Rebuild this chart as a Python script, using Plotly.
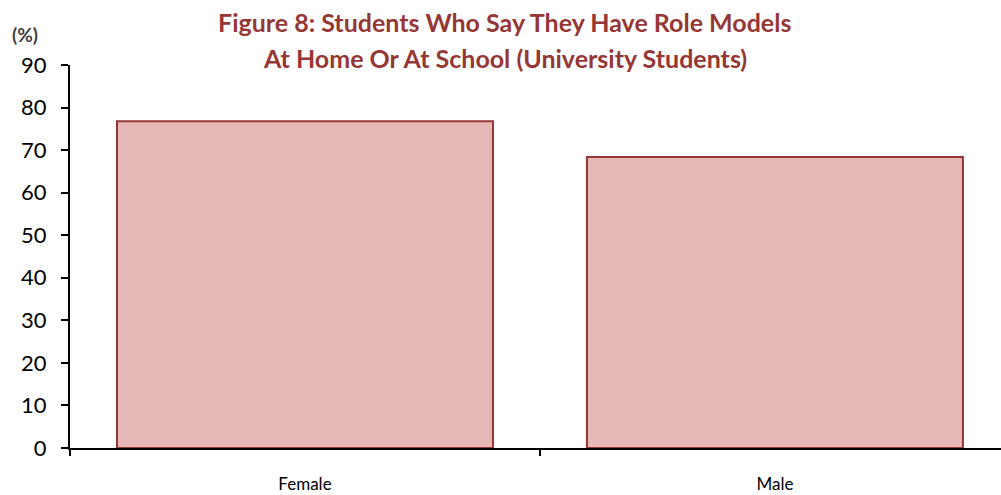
import plotly.graph_objects as go

categories = ["Female", "Male"]
values = [76.8, 68.4]
y_ticks = [0, 10, 20, 30, 40, 50, 60, 70, 80, 90]
title_lines = ["Figure 8: Students Who Say They Have Role Models",
               "At Home Or At School (University Students)"]

fig = go.Figure()
fig.add_trace(go.Bar(
    x=categories, y=values, width=0.8,
    marker=dict(color="#E6B8B7", line=dict(color="#953735", width=2)),
    hoverinfo="skip",
))

fig.update_layout(
    width=1001, height=495,
    margin=dict(l=70, r=0, t=65, b=47),
    paper_bgcolor="white", plot_bgcolor="white",
    showlegend=False,
    xaxis=dict(
        type="category", range=[-0.5, 1.481],
        showline=True, linecolor="black", linewidth=2,
        ticks="outside", tickson="boundaries", ticklen=6, tickcolor="black", tickwidth=2,
        tickfont=dict(family="Lato", size=17, color="black"),
        ticklabelstandoff=20,
        showgrid=False, zeroline=False, fixedrange=True,
    ),
    yaxis=dict(
        range=[0, 90], tickvals=y_ticks,
        showline=True, linecolor="black", linewidth=2,
        ticks="outside", ticklen=7, tickcolor="black", tickwidth=2,
        tickfont=dict(family="Lato", size=22, color="black"),
        ticklabelstandoff=10,
        showgrid=False, zeroline=False, fixedrange=True,
    ),
)

for line, shift in zip(title_lines, [43, 7]):
    fig.add_annotation(
        text=f"<b>{line}</b>", xref="paper", yref="paper", x=0.467, y=1.0, yshift=shift,
        xanchor="center", yanchor="middle", showarrow=False,
        font=dict(family="Lato", size=25, color="#953735"),
    )

fig.add_annotation(
    text="<b>(%)</b>", xref="paper", yref="paper", x=-0.064, y=1.0, yshift=31,
    xanchor="left", yanchor="middle", showarrow=False,
    font=dict(family="Lato", size=19, color="#404040"),
)

fig.write_html("out.html")
